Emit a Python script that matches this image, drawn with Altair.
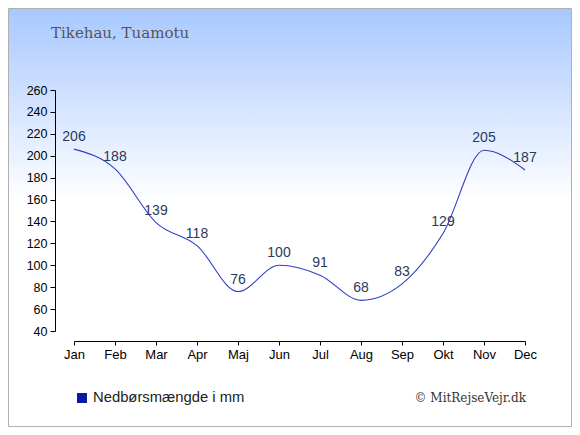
import altair as alt
import pandas as pd

months = ["Jan", "Feb", "Mar", "Apr", "Maj", "Jun", "Jul", "Aug", "Sep", "Okt", "Nov", "Dec"]
rain = [206, 188, 139, 118, 76, 100, 91, 68, 83, 129, 205, 187]
y_ticks = [40, 60, 80, 100, 120, 140, 160, 180, 200, 220, 240, 260]
title_text = "Tikehau, Tuamotu"
legend_text = "Nedbørsmængde i mm"
credit_text = "© MitRejseVejr.dk"

df = pd.DataFrame({"month": months, "rain": rain})
one = pd.DataFrame({"k": [0]})

W, H = 470, 241
PL, PT, PR, PB = 47, 82, 47, 96

x_scale = alt.Scale(type="point", domain=months, range=[19, 470], padding=0)
y_scale = alt.Scale(domain=[40, 260], nice=False, zero=False)

x_enc = alt.X("month:N", sort=months, title=None, scale=x_scale,
              axis=alt.Axis(labelAngle=0, offset=10, tickSize=4, labelPadding=3,
                            domainColor="black", tickColor="black",
                            labelColor="black", labelFont="Liberation Sans",
                            labelFontSize=13, grid=False, zindex=1,
                            labelOverlap=False))
y_enc = alt.Y("rain:Q", title=None, scale=y_scale,
              axis=alt.Axis(values=y_ticks, tickSize=5, labelPadding=3,
                            domainColor="black", tickColor="black",
                            labelColor="black", labelFont="Liberation Sans",
                            labelFontSize=12.5, grid=False, zindex=1,
                            labelOverlap=False, labelBound=False, labelFlush=False))

bg = alt.Chart(one).mark_rect(
    color=alt.Gradient(gradient="linear", x1=0, y1=0, x2=0, y2=1,
                       stops=[alt.GradientStop(offset=0, color="#a8c8ff"),
                              alt.GradientStop(offset=0.46, color="#ffffff"),
                              alt.GradientStop(offset=1, color="#ffffff")]),
    stroke="#b0b0b0", strokeWidth=1
).encode(x=alt.value(-PL + 0.5), x2=alt.value(W + PR - 0.5),
         y=alt.value(-PT + 0.5), y2=alt.value(H + PB - 0.5))

line = alt.Chart(df).mark_line(color="#2f3fc4", strokeWidth=1.1,
                               interpolate="monotone").encode(x=x_enc, y=y_enc)

labels = alt.Chart(df).mark_text(baseline="bottom", dy=-5, fontSize=14,
                                 font="Liberation Sans", color="#2a3a5c").encode(
    x=x_enc, y=y_enc, text="rain:Q")

title = alt.Chart(one).mark_text(text=title_text, align="left", baseline="middle",
                                 font="DejaVu Serif", fontSize=15, color="#555555").encode(
    x=alt.value(-4), y=alt.value(-57))

sq = alt.Chart(one).mark_square(size=100, color="#0a18a8", opacity=1, filled=True).encode(
    x=alt.value(27), y=alt.value(308))

leg = alt.Chart(one).mark_text(text=legend_text, align="left", baseline="middle",
                               font="Liberation Sans", fontSize=14.8, color="#222222").encode(
    x=alt.value(38), y=alt.value(308))

credit = alt.Chart(one).mark_text(text=credit_text, align="right", baseline="middle",
                                  font="DejaVu Serif", fontSize=12, color="#333333").encode(
    x=alt.value(471), y=alt.value(308))

chart = alt.layer(bg, line, labels, title, sq, leg, credit).properties(
    width=W, height=H,
    padding={"left": PL, "top": PT, "right": PR, "bottom": PB},
    autosize=alt.AutoSizeParams(type="none"),
    background="white"
).configure_view(stroke=None)

chart.save("out.html", embed_options={"renderer": "svg", "actions": False})
